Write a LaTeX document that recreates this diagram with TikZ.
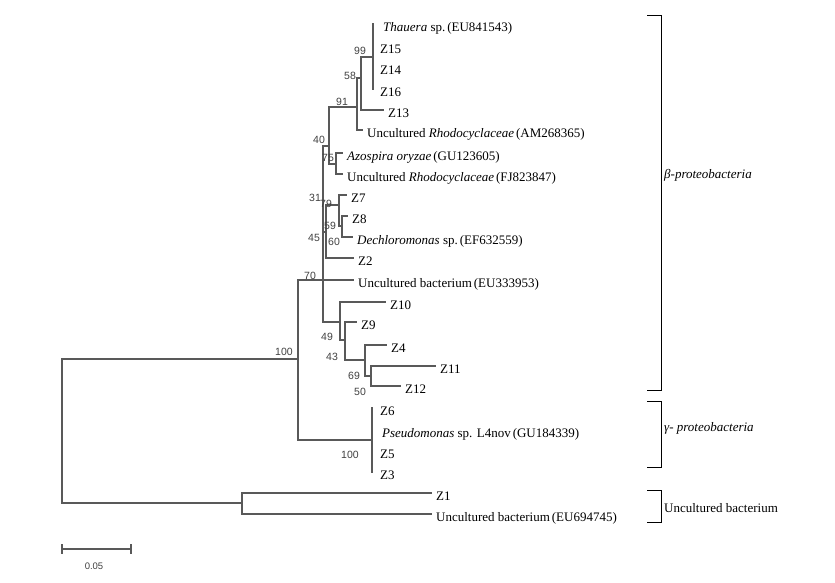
\documentclass[tikz,border=0pt]{standalone}
\usepackage{fontspec}
\setmainfont{Liberation Serif}
\newfontfamily\bootfont{Liberation Sans}
\usepackage{tikz}
\usetikzlibrary{calc}
\tikzstyle{branch} = [line width=1.1pt, draw=black!65, line cap=rect]
\tikzstyle{leaf} = [anchor=west, inner xsep=5pt, inner ysep=1pt, text height=15pt, text depth=1pt, font=\fontsize{13}{15}\selectfont]
\tikzstyle{boot} = [inner sep=0pt, text=black!75, font=\bootfont\fontsize{10.5}{12}\selectfont]
\tikzstyle{clade} = [line width=1pt, draw=black]
\tikzstyle{cladelabel} = [anchor=west, inner sep=2pt, font=\fontsize{13}{15}\selectfont]
\newcommand{\acc}[1]{\hspace{2pt}(#1)}

\begin{document}
\begin{tikzpicture}[x=1pt, y=-1pt]
        \useasboundingbox (0,0) rectangle (835,582);
        % inner nodes
        \coordinate (root) at (62,431);
        \coordinate (n100) at (298,359);
        \coordinate (nUnc) at (242,503);
        \coordinate (nGam) at (372,440);
        \coordinate (nBeta) at (323,280);
        \coordinate (n40) at (329,146);
        \coordinate (n91) at (357,107);
        \coordinate (n58) at (361,78);
        \coordinate (n99) at (373,57);
        \coordinate (nAzo) at (336,164);
        \coordinate (n45) at (326,232);
        \coordinate (n79) at (339,205);
        \coordinate (n59) at (342,226);
        \coordinate (n49) at (340,322);
        \coordinate (n43) at (345,340);
        \coordinate (n69) at (365,360);
        \coordinate (n50) at (371,376);
        % leaves
        \node (lThau) [leaf, inner xsep=10pt] at (373,24) {\textit{Thauera} sp.\acc{EU841543}};
        \node (lZ15) [leaf, inner xsep=7pt] at (373,46) {Z15};
        \node (lZ14) [leaf, inner xsep=7pt] at (373,67) {Z14};
        \node (lZ16) [leaf, inner xsep=7pt] at (373,89) {Z16};
        \node (lZ13) [leaf] at (383,110) {Z13};
        \node (lAM) [leaf] at (362,130) {Uncultured \textit{Rhodocyclaceae}\acc{AM268365}};
        \node (lAzo) [leaf] at (342,153) {\textit{Azospira oryzae}\acc{GU123605}};
        \node (lFJ) [leaf] at (342,174) {Uncultured \textit{Rhodocyclaceae}\acc{FJ823847}};
        \node (lZ7) [leaf] at (346,195) {Z7};
        \node (lZ8) [leaf] at (347,216) {Z8};
        \node (lDech) [leaf] at (352,237) {\textit{Dechloromonas} sp.\acc{EF632559}};
        \node (lZ2) [leaf] at (353,258) {Z2};
        \node (lEU333) [leaf] at (353,280) {Uncultured bacterium\acc{EU333953}};
        \node (lZ10) [leaf] at (385,302) {Z10};
        \node (lZ9) [leaf] at (356,322) {Z9};
        \node (lZ4) [leaf] at (386,345) {Z4};
        \node (lZ11) [leaf] at (435,366) {Z11};
        \node (lZ12) [leaf] at (400,386) {Z12};
        \node (lZ6) [leaf, inner xsep=8pt] at (372,408) {Z6};
        \node (lPse) [leaf, inner xsep=10pt] at (372,430) {\textit{Pseudomonas} sp. L4nov\acc{GU184339}};
        \node (lZ5) [leaf, inner xsep=8pt] at (372,451) {Z5};
        \node (lZ3) [leaf, inner xsep=8pt] at (372,472) {Z3};
        \node (lZ1) [leaf] at (431,493) {Z1};
        \node (lEU694) [leaf] at (431,514) {Uncultured bacterium\acc{EU694745}};
        % branches
        \draw [branch] (root) |- (n100) (root) |- (nUnc);
        \draw [branch] (nUnc) |- (lZ1) (nUnc) |- (lEU694);
        \draw [branch] (n100) |- (nBeta) (n100) |- (nGam);
        \draw [branch] (nGam) |- (lZ6) (nGam) |- (lPse) (nGam) |- (lZ5) (nGam) |- (lZ3);
        \draw [branch] (nBeta) |- (n40) (nBeta) |- (n45) (nBeta) |- (lEU333) (nBeta) |- (n49);
        \draw [branch] (n40) |- (n91) (n40) |- (nAzo);
        \draw [branch] (n91) |- (n58) (n91) |- (lAM);
        \draw [branch] (n58) |- (n99) (n58) |- (lZ13);
        \draw [branch] (n99) |- (lThau) (n99) |- (lZ15) (n99) |- (lZ14) (n99) |- (lZ16);
        \draw [branch] (nAzo) |- (lAzo) (nAzo) |- (lFJ);
        \draw [branch] (n45) |- (n79) (n45) |- (lZ2);
        \draw [branch] (n79) |- (lZ7) (n79) |- (n59);
        \draw [branch] (n59) |- (lZ8) (n59) |- (lDech);
        \draw [branch] (n49) |- (lZ10) (n49) |- (n43);
        \draw [branch] (n43) |- (lZ9) (n43) |- (n69);
        \draw [branch] (n69) |- (lZ4) (n69) |- (n50);
        \draw [branch] (n50) |- (lZ11) (n50) |- (lZ12);
        % bootstrap values
        \node (b100) [boot] at (284,352) {100};
        \node (b70) [boot] at (310,276) {70};
        \node (b40) [boot] at (319,140) {40};
        \node (b91) [boot] at (342,102) {91};
        \node (b58) [boot] at (350,76) {58};
        \node (b99) [boot] at (360,51) {99};
        \node (b75) [boot] at (328,158) {75};
        \node (b31) [boot] at (315,198) {31};
        \node (b79) [boot] at (326,204) {79};
        \node (b59) [boot] at (330,226) {59};
        \node (b45) [boot] at (314,238) {45};
        \node (b60) [boot] at (334,242) {60};
        \node (b49) [boot] at (327,337) {49};
        \node (b43) [boot] at (332,357) {43};
        \node (b69) [boot] at (354,376) {69};
        \node (b50) [boot] at (360,392) {50};
        \node (bGam) [boot] at (350,455) {100};
        % clade brackets
        \draw [clade] (647,15) -| (661,390) -- (647,390);
        \node (cBeta) [cladelabel] at (662,175) {\textit{β-proteobacteria}};
        \draw [clade] (647,401) -| (661,467) -- (647,467);
        \node (cGam) [cladelabel] at (662,428) {\textit{γ- proteobacteria}};
        \draw [clade] (647,490) -| (661,522) -- (647,522);
        \node (cUnc) [cladelabel] at (662,508) {Uncultured bacterium};
        % scale bar
        \coordinate (sL) at (62,549);
        \coordinate (sR) at (131,549);
        \draw [branch] (sL) -- (sR);
        \draw [branch, line cap=butt] ($(sL)+(0,-5)$) -- ($(sL)+(0,5)$) ($(sR)+(0,-5)$) -- ($(sR)+(0,5)$);
        \node (sLab) [boot, font=\bootfont\fontsize{9.5}{11}\selectfont] at (94,566) {0.05};
\end{tikzpicture}
\end{document}
